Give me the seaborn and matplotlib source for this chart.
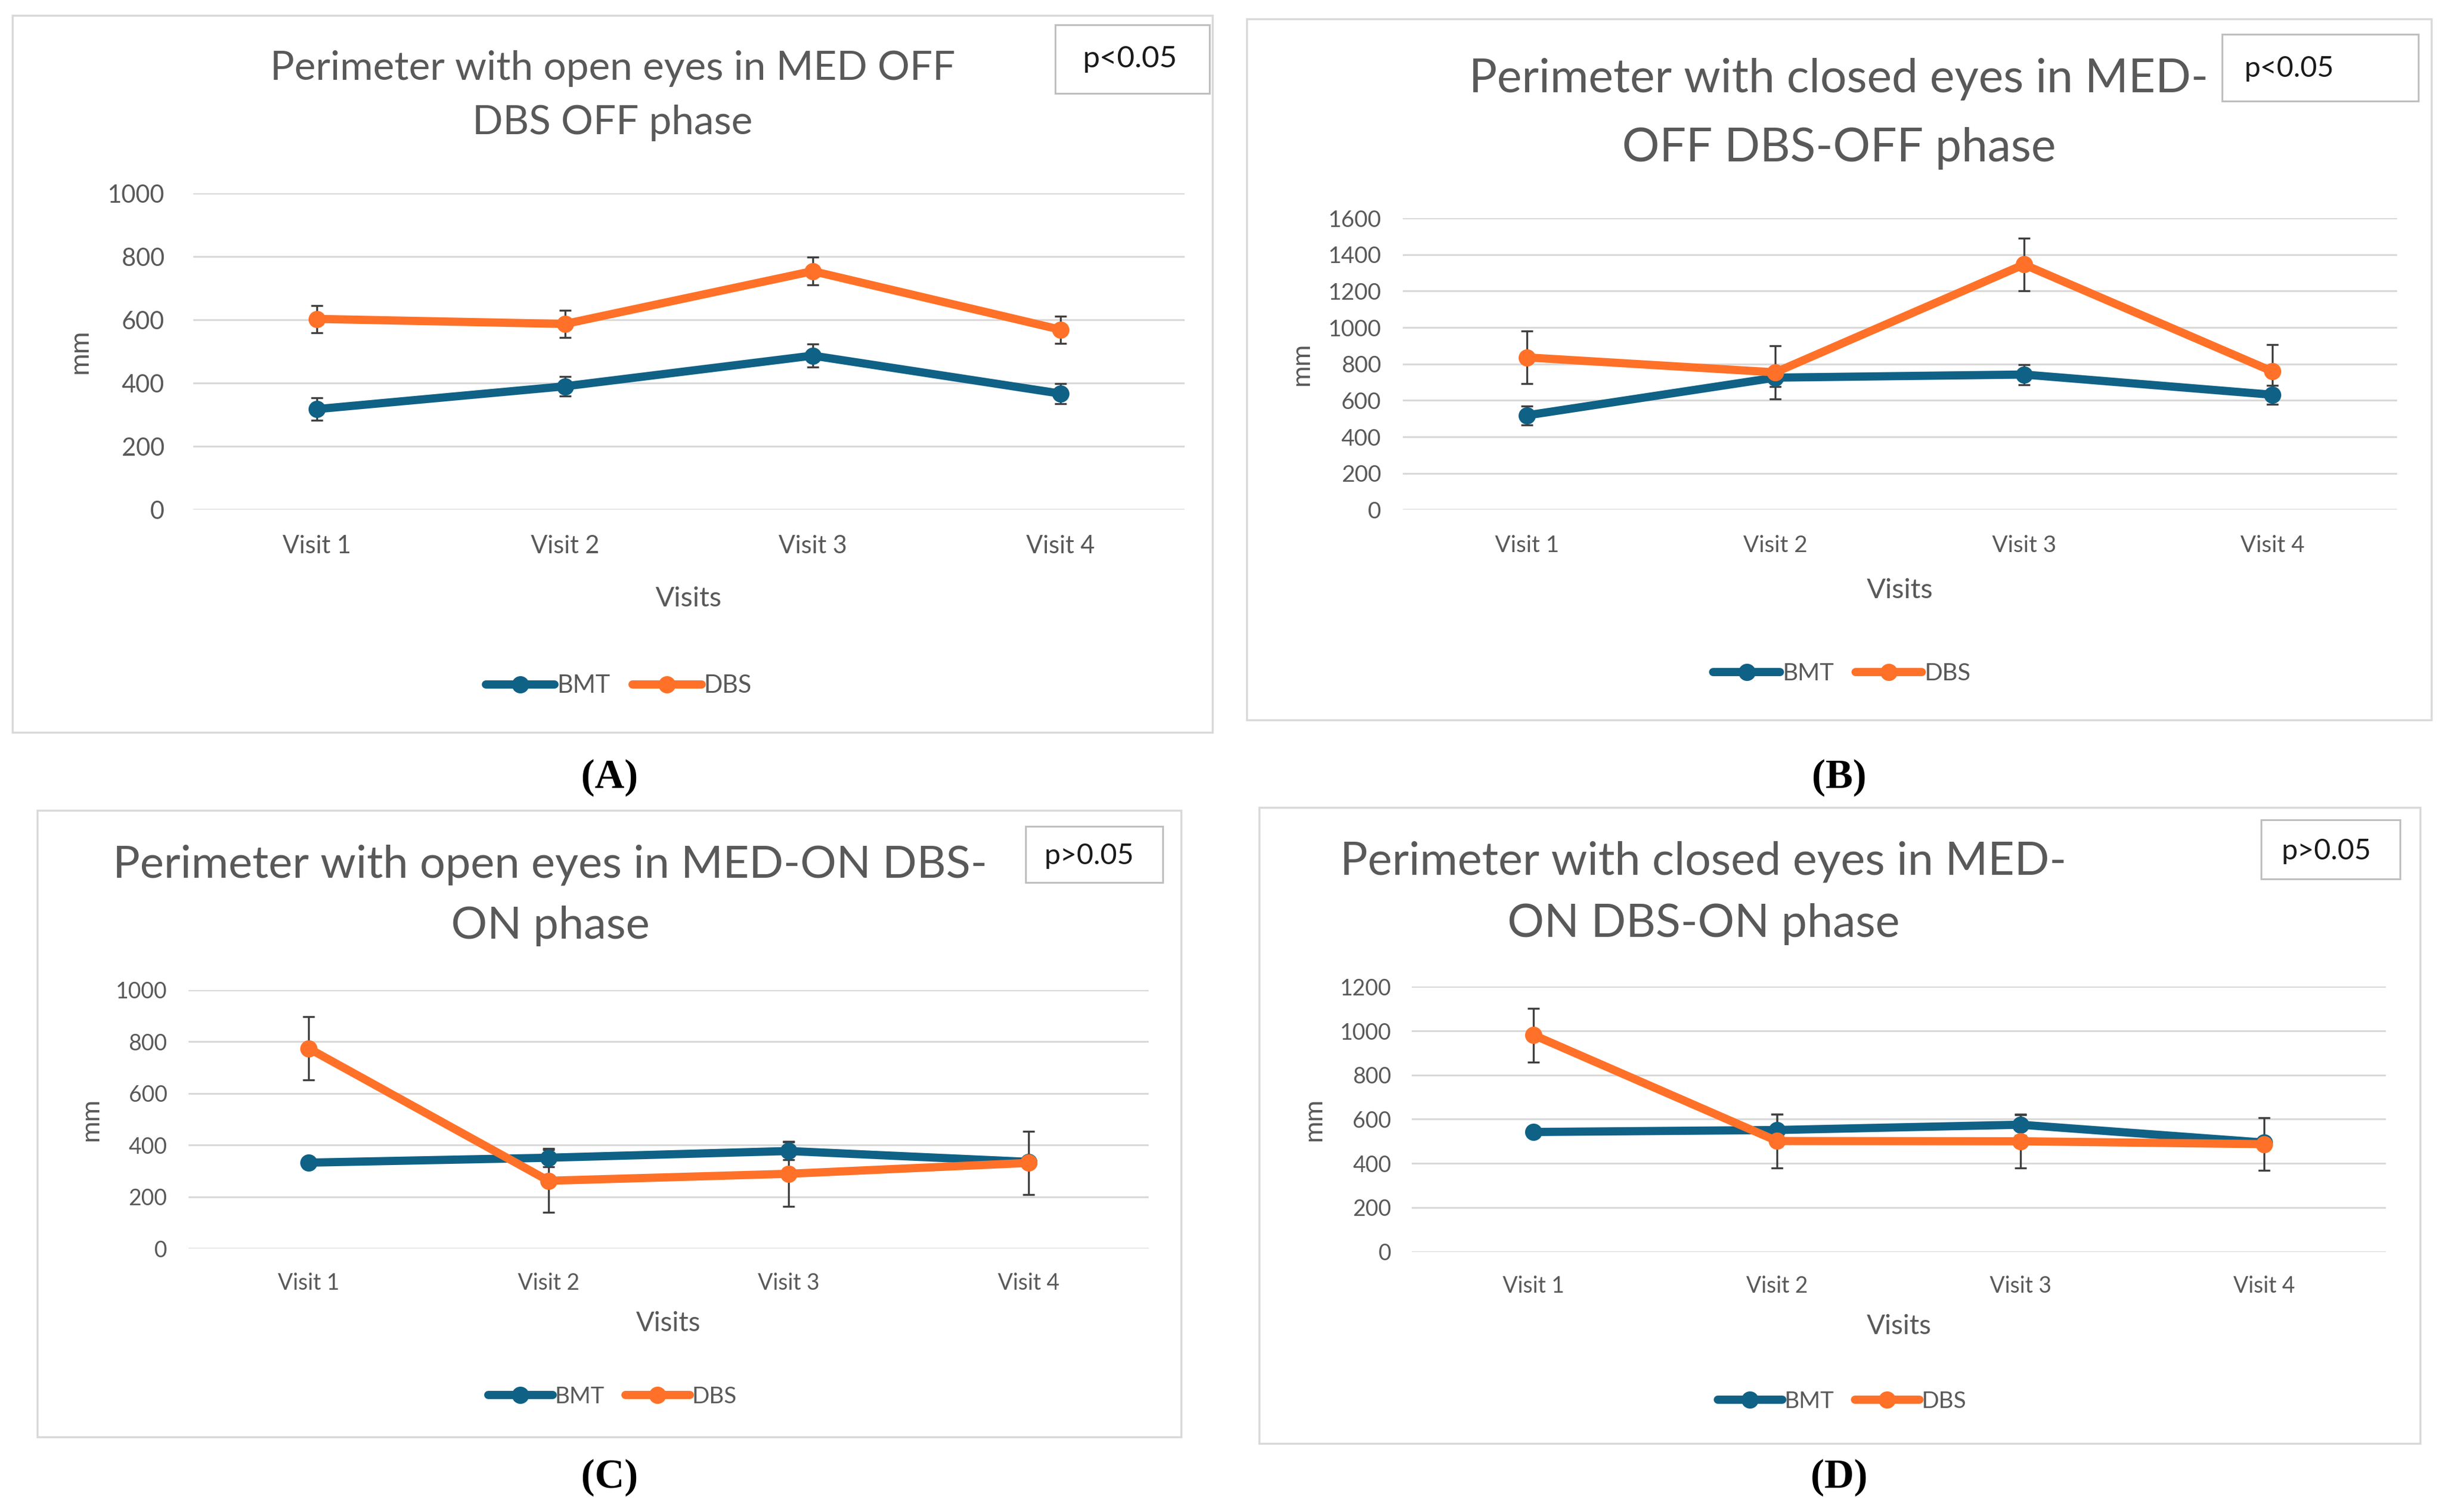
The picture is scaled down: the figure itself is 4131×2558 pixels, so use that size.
import matplotlib
matplotlib.use('Agg')
import matplotlib.pyplot as plt
import numpy as np
import pandas as pd
import seaborn as sns
from matplotlib.patches import Rectangle

# layout grid of the reference (display px), used only for placement
W, H = 1567, 970

visits = ['Visit 1', 'Visit 2', 'Visit 3', 'Visit 4']
groups = ['BMT', 'DBS']
palette = {'BMT': '#0F6186', 'DBS': '#FF7128'}

# (A) open eyes, MED OFF DBS OFF
a_bmt = [318, 390, 487, 367]
a_bmt_err = [36, 31, 36, 32]
a_dbs = [603, 587, 754, 569]
a_dbs_err = [43, 43, 44, 43]

# (B) closed eyes, MED-OFF DBS-OFF
b_bmt = [518, 725, 742, 631]
b_bmt_err = [52, 50, 55, 52]
b_dbs = [836, 754, 1346, 759]
b_dbs_err = [145, 147, 143, 148]

# (C) open eyes, MED-ON DBS-ON
c_bmt = [332, 351, 377, 335]
c_bmt_err = [10, 35, 34, 10]
c_dbs = [774, 262, 289, 331]
c_dbs_err = [122, 121, 125, 123]

# (D) closed eyes, MED-ON DBS-ON
d_bmt = [542, 551, 575, 494]
d_bmt_err = [10, 72, 48, 10]
d_dbs = [981, 501, 500, 487]
d_dbs_err = [122, 122, 120, 120]

TXT = '#595959'

sns.set_style('white')
plt.rcParams['font.family'] = ['Lato', 'DejaVu Sans']


def fx(x):
    return x / W


def fy(y):
    return 1 - y / H


def draw_panel(fig, bmt, bmt_err, dbs, dbs_err, ymax, ystep, lay):
    # panel frame
    x0, y0, x1, y1 = lay['box']
    fig.add_artist(Rectangle((fx(x0), fy(y1)), fx(x1) - fx(x0), fy(y0) - fy(y1),
                             transform=fig.transFigure, fill=False,
                             edgecolor='#D9D9D9', lw=2.5, zorder=0))

    l, t, r, b = lay['axes']
    ax = fig.add_axes([fx(l), fy(b), fx(r) - fx(l), fy(t) - fy(b)])

    df = pd.DataFrame({
        'visit': visits * 2,
        'value': bmt + dbs,
        'err': bmt_err + dbs_err,
        'group': ['BMT'] * 4 + ['DBS'] * 4,
    })
    sns.lineplot(data=df, x='visit', y='value', hue='group', hue_order=groups,
                 palette=palette, marker='o', markersize=21, markeredgewidth=0,
                 linewidth=10, sort=False, ax=ax, zorder=3)
    for g in groups:
        sub = df[df['group'] == g]
        ax.errorbar(sub['visit'], sub['value'], yerr=sub['err'], fmt='none',
                    ecolor='#404040', elinewidth=2.4, capsize=7, capthick=2.4,
                    zorder=2)

    ax.set_xlim(-0.5, 3.5)
    ax.set_ylim(0, ymax)
    ax.set_yticks(np.arange(0, ymax + 1, ystep))
    ax.set_axisbelow(True)
    ax.grid(axis='y', color='#D9D9D9', lw=2.2)
    ax.grid(axis='x', visible=False)
    for s in ax.spines.values():
        s.set_visible(False)
    ax.tick_params(length=0, labelcolor=TXT, labelsize=lay['tick'])
    ax.tick_params(axis='y', pad=lay['ypad'])
    ax.tick_params(axis='x', pad=lay['xpad'])

    hgt = b - t
    ax.set_xlabel('Visits', fontsize=lay['xl'], color=TXT, va='center')
    ax.xaxis.set_label_coords(0.5, -(lay['xlab_y'] - b) / hgt)
    ax.set_ylabel('mm', fontsize=lay['yl'], color=TXT, va='center')
    ax.yaxis.set_label_coords(-(l - lay['ylab_x']) / (r - l), 0.5)

    handles, labels = ax.get_legend_handles_labels()
    ax.get_legend().remove()
    lx, ly = lay['legend']
    fig.legend(handles, labels, loc='center', bbox_to_anchor=(fx(lx), fy(ly)),
               bbox_transform=fig.transFigure, ncol=2, frameon=False,
               fontsize=lay['leg'], handlelength=2.8, handletextpad=0.1,
               columnspacing=0.9, labelcolor=TXT)

    # title, two lines
    cx = lay['title_x']
    for line, ty in zip(lay['title'], lay['title_y']):
        fig.text(fx(cx), fy(ty), line, ha='center', va='center',
                 fontsize=lay['tsize'], color=TXT)

    # p-value box
    px0, py0, px1, py1 = lay['pbox']
    fig.add_artist(Rectangle((fx(px0), fy(py1)), fx(px1) - fx(px0), fy(py0) - fy(py1),
                             transform=fig.transFigure, facecolor='white',
                             edgecolor='#BFBFBF', lw=2.2, zorder=1))
    ptx, pty, pha = lay['ptext_pos']
    fig.text(fx(ptx), fy(pty), lay['ptext'], ha=pha, va='center',
             fontsize=lay['psize'], color='#1A1A1A', zorder=2)

    # panel letter
    ltx, lty = lay['letter_pos']
    fig.text(fx(ltx), fy(lty), lay['letter'], ha='center', va='center',
             fontsize=50, fontweight='bold', family='Liberation Serif', color='black')
    return ax


fig = plt.figure(figsize=(41.31, 25.58), dpi=100)

lay_a = dict(box=(8, 10, 778, 470), axes=(124, 124, 760, 327),
             tick=30, ypad=35, xpad=31, xl=34, yl=33, xlab_y=384, ylab_x=51,
             legend=(397, 440), leg=30,
             title=['Perimeter with open eyes in MED OFF', 'DBS OFF phase'],
             title_x=393, title_y=(44, 79), tsize=49,
             pbox=(677, 16, 776, 60), ptext='p<0.05', ptext_pos=(725, 38, 'center'), psize=37,
             letter='(A)', letter_pos=(391, 499))
lay_b = dict(box=(800, 12, 1560, 462), axes=(900, 140, 1538, 327),
             tick=28, ypad=26, xpad=31, xl=34, yl=32, xlab_y=379, ylab_x=835,
             legend=(1182, 432), leg=29,
             title=['Perimeter with closed eyes in MED-', 'OFF DBS-OFF phase'],
             title_x=1180, title_y=(51, 95), tsize=57,
             pbox=(1426, 22, 1552, 65), ptext='p<0.05', ptext_pos=(1440, 44, 'left'), psize=35,
             letter='(B)', letter_pos=(1180, 499))
lay_c = dict(box=(24, 520, 758, 922), axes=(121, 635, 737, 801),
             tick=27, ypad=26, xpad=29, xl=33, yl=32, xlab_y=849, ylab_x=58,
             legend=(393, 896), leg=28,
             title=['Perimeter with open eyes in MED-ON DBS-', 'ON phase'],
             title_x=353, title_y=(555, 594), tsize=55,
             pbox=(658, 530, 746, 566), ptext='p>0.05', ptext_pos=(699, 549, 'center'), psize=35,
             letter='(C)', letter_pos=(391, 948))
lay_d = dict(box=(808, 518, 1553, 926), axes=(906, 633, 1531, 803),
             tick=27, ypad=25, xpad=29, xl=33, yl=32, xlab_y=851, ylab_x=843,
             legend=(1182, 899), leg=28,
             title=['Perimeter with closed eyes in MED-', 'ON DBS-ON phase'],
             title_x=1093, title_y=(553, 593), tsize=56,
             pbox=(1451, 526, 1540, 564), ptext='p>0.05', ptext_pos=(1493, 546, 'center'), psize=35,
             letter='(D)', letter_pos=(1180, 948))

draw_panel(fig, a_bmt, a_bmt_err, a_dbs, a_dbs_err, 1000, 200, lay_a)
draw_panel(fig, b_bmt, b_bmt_err, b_dbs, b_dbs_err, 1600, 200, lay_b)
draw_panel(fig, c_bmt, c_bmt_err, c_dbs, c_dbs_err, 1000, 200, lay_c)
draw_panel(fig, d_bmt, d_bmt_err, d_dbs, d_dbs_err, 1200, 200, lay_d)

fig.savefig('out.png', dpi=100, facecolor='white')
